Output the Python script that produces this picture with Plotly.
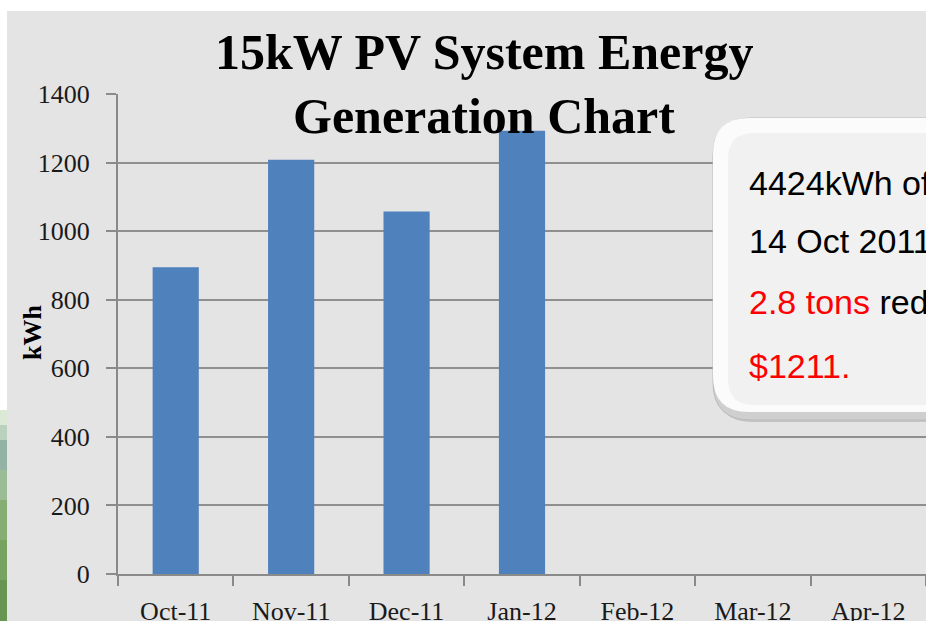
import plotly.graph_objects as go

# ---- data ----
months = ["Oct-11", "Nov-11", "Dec-11", "Jan-12", "Feb-12", "Mar-12", "Apr-12"]
energy_kwh = [895, 1208, 1057, 1293, None, None, None]
y_ticks = [0, 200, 400, 600, 800, 1000, 1200, 1400]

title_lines = ["15kW PV System Energy", "Generation Chart"]
callout_lines = [
    "4424kWh of electricity generated since",
    "14 Oct 2011, to date",
    "<span style='color:#ff0000'>2.8 tons</span> reduction of CO2",
    "<span style='color:#ff0000'>$1211.</span>",
]

W, H = 926, 621
ML, MR, MT, MB = 118, 0, 94, 47
PW, PH = W - ML - MR, H - MT - MB


def X(px):
    return (px - ML) / PW


def Y(py):
    return (H - MB - py) / PH


def rrect(x0, y0, x1, y1, r):
    pts = [
        ("M", [(x0 + r, y0)]), ("L", [(x1 - r, y0)]), ("Q", [(x1, y0), (x1, y0 + r)]),
        ("L", [(x1, y1 - r)]), ("Q", [(x1, y1), (x1 - r, y1)]), ("L", [(x0 + r, y1)]),
        ("Q", [(x0, y1), (x0, y1 - r)]), ("L", [(x0, y0 + r)]), ("Q", [(x0, y0), (x0 + r, y0)]),
    ]
    s = ""
    for cmd, ps in pts:
        s += cmd + " " + " ".join(f"{X(a):.5f},{Y(b):.5f}" for a, b in ps) + " "
    return s + "Z"


fig = go.Figure()
fig.add_trace(go.Bar(x=months, y=energy_kwh, marker=dict(color="#4f81bd", line=dict(width=0))))

shapes = []
# grey chart background
shapes.append(dict(type="rect", xref="paper", yref="paper", x0=X(7), x1=X(W + 5), y0=Y(11), y1=Y(H + 5),
                   fillcolor="#e4e4e4", line=dict(width=0), layer="below"))
# green strip at left (background picture edge)
greens = [(410, 425, "#dce9d6"), (425, 440, "#b9d1bd"), (440, 470, "#93b3a6"), (470, 500, "#9cbc95"),
          (500, 540, "#86ad72"), (540, 580, "#76a35f"), (580, 626, "#679653")]
for a, b, c in greens:
    shapes.append(dict(type="rect", xref="paper", yref="paper", x0=X(-2), x1=X(7), y0=Y(a), y1=Y(b),
                       fillcolor=c, line=dict(width=0), layer="below"))
# callout box
shapes.append(dict(type="path", xref="paper", yref="paper", path=rrect(715, 121, 990, 422, 38),
                   fillcolor="#c4c4c4", line=dict(width=0), layer="above"))
shapes.append(dict(type="path", xref="paper", yref="paper", path=rrect(713, 118, 990, 420, 38),
                   fillcolor="#cfcfcf", line=dict(color="#bbbbbb", width=1), layer="above"))
shapes.append(dict(type="path", xref="paper", yref="paper", path=rrect(713, 118, 990, 412, 36),
                   fillcolor="#fbfbfb", line=dict(width=0), layer="above"))
shapes.append(dict(type="path", xref="paper", yref="paper", path=rrect(728, 133, 990, 405, 26),
                   fillcolor="#f1f1f1", line=dict(width=0), layer="above"))

annotations = []
for i, t in enumerate(title_lines):
    annotations.append(dict(text=f"<b>{t}</b>", xref="paper", yref="paper", x=X(484), y=Y(52 + 64 * i),
                            xanchor="center", yanchor="middle", showarrow=False,
                            font=dict(family="Liberation Serif", size=50, color="#000000")))
annotations.append(dict(text="<b>kWh</b>", xref="paper", yref="paper", x=X(32), y=Y(333), textangle=-90,
                        xanchor="center", yanchor="middle", showarrow=False,
                        font=dict(family="Liberation Serif", size=26, color="#000000")))
line_y = [183, 241, 302, 366]
for t, yy in zip(callout_lines, line_y):
    annotations.append(dict(text=t, xref="paper", yref="paper", x=X(747), y=Y(yy), xanchor="left",
                            yanchor="middle", showarrow=False,
                            font=dict(family="Liberation Sans", size=34, color="#000000")))

fig.update_layout(
    width=W, height=H,
    margin=dict(l=ML, r=MR, t=MT, b=MB, autoexpand=False),
    paper_bgcolor="#ffffff", plot_bgcolor="rgba(0,0,0,0)",
    showlegend=False, bargap=0.6,
    shapes=shapes, annotations=annotations,
)
fig.update_xaxes(
    type="category", range=[-0.5, 6.5], showgrid=False, showline=True, linecolor="#8a8a8a", linewidth=2,
    ticks="outside", tickson="boundaries", ticklen=10, tickwidth=2, tickcolor="#8a8a8a", ticklabelstandoff=13,
    tickfont=dict(family="Liberation Serif", size=26, color="#1a1a1a"), automargin=False,
)
fig.update_yaxes(
    range=[0, 1400], tickvals=y_ticks, showgrid=True, gridcolor="#8f8f8f", gridwidth=2,
    showline=True, linecolor="#8a8a8a", linewidth=2, zeroline=False,
    ticks="outside", ticklen=10, tickwidth=2, tickcolor="#8a8a8a", ticklabelstandoff=11,
    tickfont=dict(family="Liberation Serif", size=26, color="#1a1a1a"), automargin=False,
)

fig.write_html(
    "out.html",
    config={"displayModeBar": False},
    post_script="document.body.style.margin='0px';document.body.style.overflow='hidden';",
)
